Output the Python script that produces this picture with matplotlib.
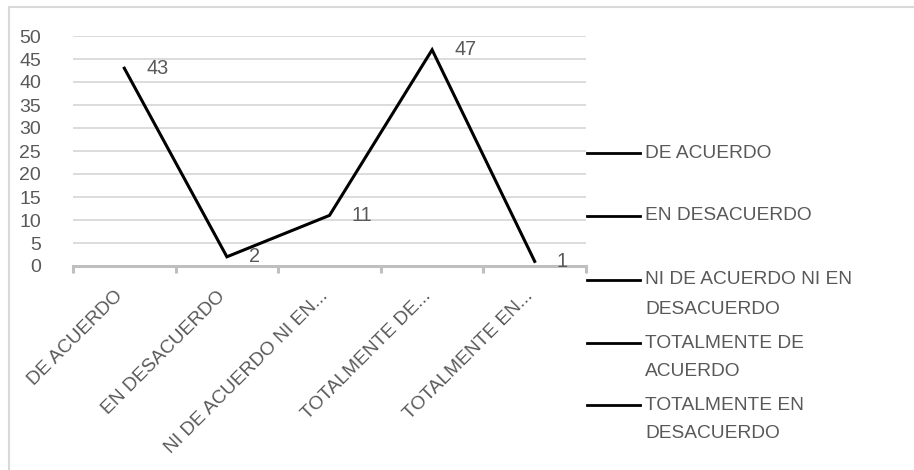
import matplotlib
matplotlib.use("Agg")
import matplotlib.pyplot as plt
from matplotlib import font_manager
from matplotlib.lines import Line2D
from matplotlib.transforms import ScaledTranslation

categories = ["DE ACUERDO", "EN DESACUERDO", "NI DE ACUERDO NI EN DESACUERDO",
              "TOTALMENTE DE ACUERDO", "TOTALMENTE EN DESACUERDO"]
tick_labels = ["DE ACUERDO", "EN DESACUERDO", "NI DE ACUERDO NI EN...",
               "TOTALMENTE DE...", "TOTALMENTE EN..."]
legend_labels = ["DE ACUERDO", "EN DESACUERDO", "NI DE ACUERDO NI EN\nDESACUERDO",
                 "TOTALMENTE DE\nACUERDO", "TOTALMENTE EN\nDESACUERDO"]
values = [43, 2, 11, 47, 1]
y_ticks = [0, 5, 10, 15, 20, 25, 30, 35, 40, 45, 50]

# font selection
try:
    font_manager.findfont("Liberation Sans Narrow", fallback_to_default=False)
    FAM = ["Liberation Sans Narrow", "DejaVu Sans"]
    big = 16.5
except Exception:
    FAM = ["Liberation Sans", "DejaVu Sans"]
    big = 13.8
plt.rcParams['font.family'] = FAM
TXT = "#595959"
GRID = "#d9d9d9"
AX = "#bfbfbf"

W, H = 914, 470
fig = plt.figure(figsize=(W / 100, H / 100), dpi=100)
fig.patch.set_facecolor("white")

# outer border (left and top visible)
fig.add_artist(Line2D([9 / W, 9 / W], [0, 1 - 7 / H], transform=fig.transFigure,
                      color=GRID, lw=1.5))
fig.add_artist(Line2D([9 / W, 1], [1 - 7 / H, 1 - 7 / H], transform=fig.transFigure,
                      color=GRID, lw=1.5))

x0, x1 = 73, 586
ytop, ybot = 36, 266
ax = fig.add_axes([x0 / W, 1 - ybot / H, (x1 - x0) / W, (ybot - ytop) / H])
ax.set_facecolor("none")
n = len(categories)
xs = list(range(n))
ax.set_xlim(-0.5, n - 0.5)
ax.set_ylim(0, 50)

for v in y_ticks[1:]:
    ax.axhline(v, color=GRID, lw=1.3, zorder=0)

for s in ["top", "right", "left"]:
    ax.spines[s].set_visible(False)
ax.spines["bottom"].set_color(AX)
ax.spines["bottom"].set_linewidth(2.2)
ax.spines["bottom"].set_zorder(1)

ax.set_yticks(y_ticks)
ax.set_yticklabels([str(v) for v in y_ticks], fontsize=14, color=TXT,
                   family=["Liberation Sans", "DejaVu Sans"])
ax.tick_params(axis="y", length=0, pad=23)

ax.set_xticks(xs)
ax.set_xticks([i - 0.5 for i in range(n + 1)], minor=True)
ax.tick_params(axis="x", which="minor", length=5, width=2.2, color=AX, direction="out")
ax.tick_params(axis="x", which="major", length=0, pad=20)
ax.set_xticklabels(tick_labels, rotation=45, ha="right", va="center",
                   rotation_mode="anchor", fontsize=big, color=TXT)
shift = ScaledTranslation(-4 / 100, 0, fig.dpi_scale_trans)
for lbl in ax.get_xticklabels():
    lbl.set_transform(lbl.get_transform() + shift)

ax.plot(xs, values, color="black", lw=2.2, solid_joinstyle="miter", zorder=3, clip_on=False)

for xi, v in zip(xs, values):
    ax.annotate(str(v), (xi, v), xytext=(22, 0), textcoords="offset pixels",
                ha="left", va="center", fontsize=big + 0.5, color=TXT, zorder=4)

# legend (manual, Excel style)
entry_y = [153, 216, 280, 343, 405]
line_gap = 29
for lab, yy in zip(legend_labels, entry_y):
    fig.add_artist(Line2D([587 / W, 640 / W], [1 - yy / H, 1 - yy / H],
                          transform=fig.transFigure, color="black", lw=2))
    for k, part in enumerate(lab.split("\n")):
        fig.text(645 / W, 1 - (yy + k * line_gap) / H, part, ha="left", va="center",
                 fontsize=big, color=TXT)

fig.savefig("out.png", dpi=100, facecolor="white")
